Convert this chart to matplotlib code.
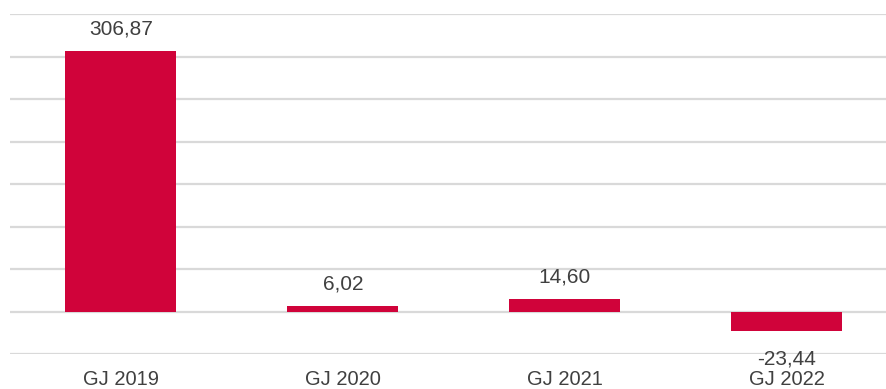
import matplotlib
matplotlib.use("Agg")
import matplotlib.pyplot as plt

categories = ["GJ 2019", "GJ 2020", "GJ 2021", "GJ 2022"]
values = [306.87, 6.02, 14.60, -23.44]
value_labels = ["306,87", "6,02", "14,60", "-23,44"]

W, H = 886, 389
fig = plt.figure(figsize=(W / 100, H / 100), dpi=100)
ax = fig.add_axes([10 / W, (H - 354) / H, 876 / W, 340 / H])

bar_color = "#D0033A"
text_color = "#404040"
grid_color = "#D9D9D9"
font = ["Liberation Sans", "DejaVu Sans"]

x = list(range(len(categories)))
ax.bar(x, values, width=0.5, color=bar_color, zorder=3)

ax.set_ylim(-50, 350)
ax.set_xlim(-0.5, 3.447)
ax.set_yticks(range(-50, 351, 50))
ax.yaxis.grid(True, color=grid_color, linewidth=1.6, zorder=0)
ax.tick_params(axis="y", left=False, labelleft=False)
ax.tick_params(axis="x", bottom=False, pad=8)
ax.set_xticks(x)
ax.set_xticklabels(categories, fontsize=14.5, color=text_color, family=font)
for s in ax.spines.values():
    s.set_visible(False)

for xi, v, lab in zip(x, values, value_labels):
    if v >= 0:
        ax.annotate(lab, (xi, v), xytext=(0, 9), textcoords="offset points",
                    ha="center", va="bottom", fontsize=15, color=text_color, family=font)
    else:
        ax.annotate(lab, (xi, v), xytext=(0, -13), textcoords="offset points",
                    ha="center", va="top", fontsize=15, color=text_color, family=font)

fig.savefig("out.png", dpi=100)
